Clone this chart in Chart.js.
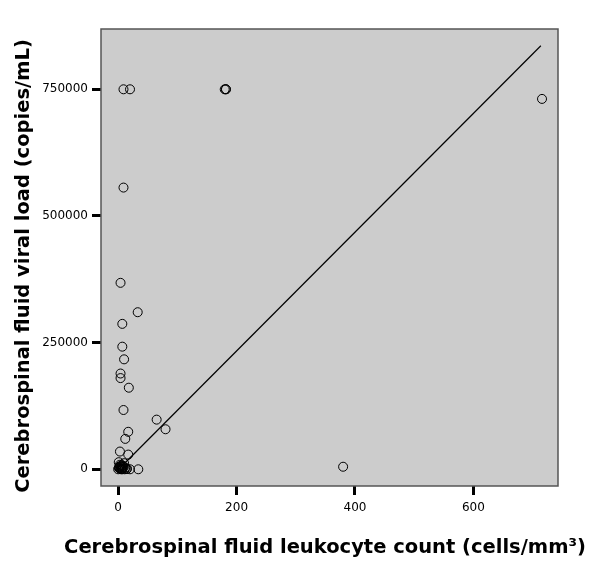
<!DOCTYPE html>
<html>
<head>
<meta charset="utf-8">
<script src="https://cdn.jsdelivr.net/npm/chart.js@4"></script>
<style>
  html, body { margin: 0; padding: 0; background: #fff; }
</style>
</head>
<body>
<canvas id="scatter" width="600" height="587"></canvas>
<script>
// CSF leukocyte count (cells/mm3) vs CSF viral load (copies/mL)
const leukocytes = [9, 20, 180, 182, 182, 716, 9, 4, 33, 7, 7, 10, 4, 4, 18, 9, 65, 80, 17, 12, 3, 17,
    0, 2, 4, 6, 8, 10, 12, 14, 1, 3, 7, 9, 11, 15, 20, 34, 380,
    2, 5, 3, 6, 8, 1, 5];
const viralLoad = [750000, 750000, 750000, 750000, 750000, 731000, 556000, 368000, 310000, 287000, 242000,
    217000, 189000, 180000, 161000, 117000, 98000, 79000, 74000, 60000, 35000, 29000,
    0, 4000, 1000, 8000, 2000, 12000, 3000, 500, 14000, 6000, 0, 5000, 0, 1000, 0, 0, 5000,
    2000, 5000, 9000, 1000, 7000, 3000, 0];
// fitted line end points
const fitX = [0, 714];
const fitY = [-1000, 836000];
const xTicks = [0, 200, 400, 600];
const yTicks = [0, 250000, 500000, 750000];
const xTitle = 'Cerebrospinal fluid leukocyte count (cells/mm³)';
const yTitle = 'Cerebrospinal fluid viral load (copies/mL)';

const points = leukocytes.map((x, i) => ({ x: x, y: viralLoad[i] }));
const fitLine = fitX.map((x, i) => ({ x: x, y: fitY[i] }));

const titleFont = 'bold 19.5px "DejaVu Sans"';

// grey plot box, border and the two axis titles
const plotBox = {
    id: 'plotBox',
    beforeDraw(chart) {
        const { ctx, chartArea: a } = chart;
        ctx.save();
        ctx.fillStyle = '#cccccc';
        ctx.fillRect(a.left, a.top, a.right - a.left, a.bottom - a.top);
        ctx.restore();
    },
    beforeDatasetsDraw(chart) {
        const { ctx, chartArea: a } = chart;
        ctx.save();
        ctx.strokeStyle = '#555';
        ctx.lineWidth = 1.5;
        ctx.strokeRect(a.left, a.top, a.right - a.left, a.bottom - a.top);
        ctx.restore();
    },
    afterDraw(chart) {
        const ctx = chart.ctx;
        ctx.save();
        ctx.fillStyle = '#000';
        ctx.font = titleFont;
        ctx.textAlign = 'center';
        ctx.textBaseline = 'middle';
        ctx.fillText(xTitle, 325, 548);
        ctx.translate(24, 266);
        ctx.rotate(-Math.PI / 2);
        ctx.fillText(yTitle, 0, 0);
        ctx.restore();
    }
};

const tickFont = { family: 'DejaVu Sans', size: 12 };
const tickGrid = { display: true, drawOnChartArea: false, drawTicks: true, tickLength: 9, tickWidth: 3, tickColor: '#000' };

new Chart(document.getElementById('scatter'), {
    type: 'scatter',
    data: {
        datasets: [{
            data: points,
            pointRadius: 4.5,
            pointHoverRadius: 4.5,
            pointBorderWidth: 1,
            borderColor: '#000',
            backgroundColor: 'rgba(0,0,0,0)',
            order: 1
        }, {
            type: 'line',
            data: fitLine,
            borderColor: '#000',
            borderWidth: 1.2,
            pointRadius: 0,
            fill: false,
            order: 2
        }]
    },
    options: {
        responsive: false,
        animation: false,
        layout: { padding: { top: 29, right: 42, left: 0, bottom: 0 } },
        plugins: { legend: { display: false }, tooltip: { enabled: false } },
        scales: {
            x: {
                type: 'linear',
                min: -29,
                max: 743,
                afterBuildTicks: s => { s.ticks = xTicks.map(v => ({ value: v })); },
                afterFit: s => { s.height = 101; },
                grid: tickGrid,
                border: { display: false },
                ticks: { font: tickFont, color: '#000', padding: 6, maxRotation: 0, callback: v => String(v) }
            },
            y: {
                type: 'linear',
                min: -33000,
                max: 869000,
                afterBuildTicks: s => { s.ticks = yTicks.map(v => ({ value: v })); },
                afterFit: s => { s.width = 101; },
                grid: tickGrid,
                border: { display: false },
                ticks: { font: tickFont, color: '#000', padding: 4, callback: v => String(v) }
            }
        }
    },
    plugins: [plotBox]
});
</script>
</body>
</html>
